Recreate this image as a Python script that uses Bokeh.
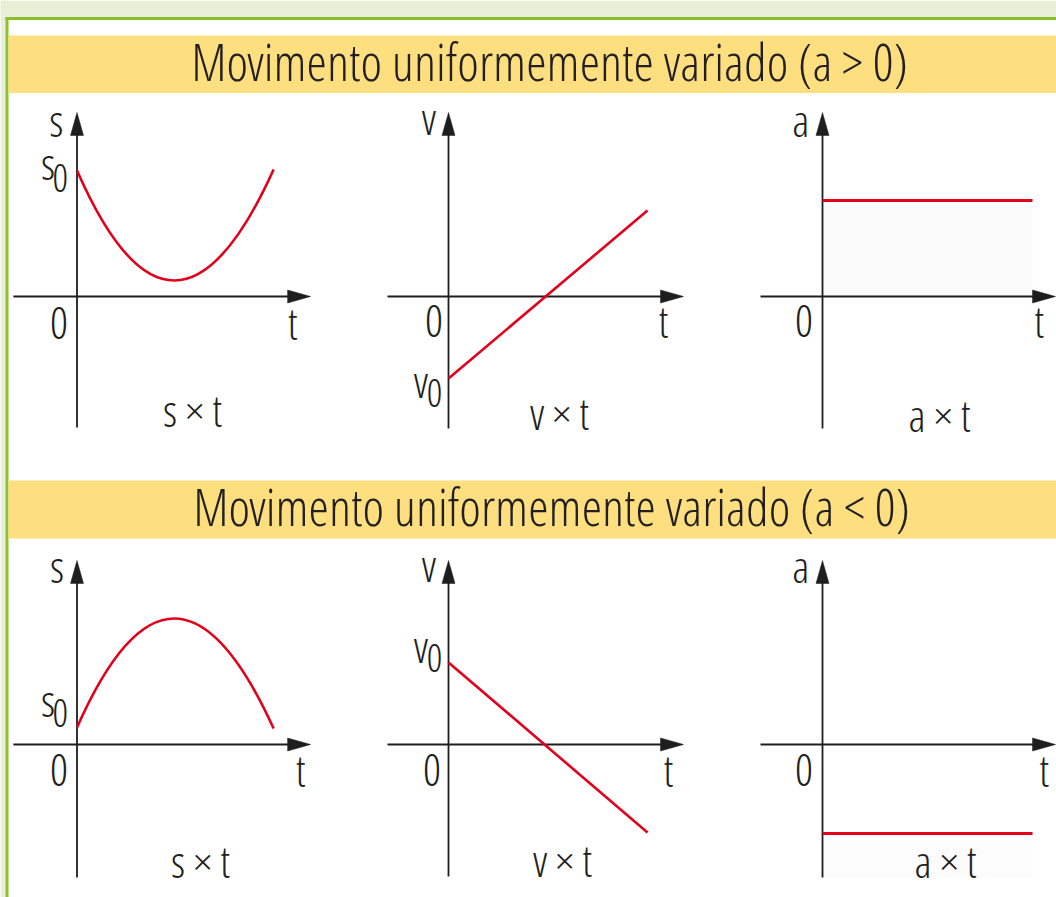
from bokeh.plotting import figure
from bokeh.models import Range1d
from bokeh.core.properties import value
from bokeh.embed import file_html
from bokeh.resources import INLINE

# ---------------- data ----------------
titles = ["Movimento uniformemente variado (a > 0)",
          "Movimento uniformemente variado (a < 0)"]
captions = ["s × t", "v × t", "a × t"]
axis_names = ["s", "v", "a"]
initial_names = ["s", "v"]

# a > 0
s_pos_t = [0.0, 4.83, 9.83]      # start, vertex, end
s_pos_s = [6.3, 0.8, 6.35]
v_pos_t = [0.0, 9.95]
v_pos_v = [-4.1, 4.3]
a_pos_t = [0.0, 10.5]
a_pos_a = [4.8, 4.8]

# a < 0
s_neg_t = [0.0, 4.83, 9.83]
s_neg_s = [0.85, 6.3, 0.8]
v_neg_t = [0.0, 9.95]
v_neg_v = [4.1, -4.4]
a_neg_t = [0.0, 10.5]
a_neg_a = [-4.45, -4.45]

# ---------------- layout ----------------
W, H = 1056, 897
K = 20.0  # pixels per unit
FONT = "Open Sans Condensed Light, Roboto Condensed, DejaVu Sans Condensed, sans-serif"
INK = "#231f20"
RED = "#e2001a"
AX = "#1e1e1e"
LAB_DY = 18.0  # pixel correction of the label baselines (positive = up)

p = figure(width=W, height=H, x_range=Range1d(0, W), y_range=Range1d(H, 0),
           output_backend="svg", toolbar_location=None, x_axis_type=None, y_axis_type=None,
           min_border=0, outline_line_color=None,
           background_fill_color="white", border_fill_color="white")

# frame decoration
p.quad(left=[0], right=[W], top=[0], bottom=[16.5], color="#e7efd6", line_color=None)
p.quad(left=[0], right=[5], top=[0], bottom=[H], color="#e7efd6", line_color=None)
p.quad(left=[5], right=[W], top=[16.5], bottom=[19.5], color="#8cbf2a", line_color=None)
p.quad(left=[5], right=[8], top=[16.5], bottom=[H], color="#8cbf2a", line_color=None)
band_tops = [35, 480]
band_bottoms = [92.5, 538]
p.quad(left=[8, 8], right=[W, W], top=band_tops, bottom=band_bottoms,
       color="#fddf80", line_color=None)
p.text(x=[549, 551], y=[(a + b) / 2 - 4 for a, b in zip(band_tops, band_bottoms)], text=titles,
       text_font=value(FONT), text_font_size=value("52px"), text_color=INK,
       text_align="center", text_baseline="middle")

# panels: origin in page pixels, axis extents in units
panels = [
    dict(n="A", ox=76.5, oy=296, xl=-3.18, xr=11.68, yb=-6.55, yt=9.2),
    dict(n="B", ox=448, oy=296, xl=-3.05, xr=11.75, yb=-6.6, yt=9.2),
    dict(n="C", ox=822, oy=296, xl=-3.1, xr=11.65, yb=-6.6, yt=9.2),
    dict(n="D", ox=76.5, oy=744, xl=-3.18, xr=11.68, yb=-6.65, yt=9.2),
    dict(n="E", ox=448, oy=744, xl=-3.05, xr=11.75, yb=-6.6, yt=9.2),
    dict(n="F", ox=822, oy=744, xl=-3.1, xr=11.65, yb=-6.65, yt=9.2),
]
xr, yr = {}, {}
for q in panels:
    xr[q["n"] + "x"] = Range1d(-q["ox"] / K, (W - q["ox"]) / K)
    yr[q["n"] + "y"] = Range1d((q["oy"] - H) / K, q["oy"] / K)
p.extra_x_ranges = xr
p.extra_y_ranges = yr

HL = 23 / K   # arrow head length
HW = 6.5 / K  # arrow head half width


def rn(q):
    return dict(x_range_name=q["n"] + "x", y_range_name=q["n"] + "y")


def draw_axes(q):
    r = rn(q)
    p.segment(x0=[q["xl"], 0], y0=[0, q["yb"]], x1=[q["xr"] - HL * 0.5, 0], y1=[0, q["yt"] - HL * 0.5],
              line_color=AX, line_width=1.8, **r)
    p.patches(xs=[[q["xr"], q["xr"] - HL, q["xr"] - HL], [0, -HW, HW]],
              ys=[[0, HW, -HW], [q["yt"], q["yt"] - HL, q["yt"] - HL]],
              color=AX, line_color=AX, line_width=0.5, **r)


def txt(q, xs, ys, texts, size):
    p.text(x=xs, y=[y + LAB_DY / K for y in ys], text=texts, text_font=value(FONT),
           text_font_size=value(size), text_color=INK, text_align="center",
           text_baseline="alphabetic", **rn(q))


def parabola(q, ts, ss):
    # quadratic Bezier through the three points
    cx = ts[1]
    cy = 2 * ss[1] - (ss[0] + ss[2]) / 2
    p.quadratic(x0=[ts[0]], y0=[ss[0]], x1=[ts[2]], y1=[ss[2]], cx=[cx], cy=[cy],
                line_color=RED, line_width=2.6, **rn(q))


A, B, C, D, E, F = panels

# faint shading under the a x t lines
p.varea(x=a_pos_t, y1=[0, 0], y2=a_pos_a, fill_color="#fbfbfb", **rn(C))
p.varea(x=a_neg_t, y1=a_neg_a, y2=[a_neg_a[0] - 2.2, a_neg_a[1] - 2.2], fill_color="#fcfcfc", **rn(F))

for q in panels:
    draw_axes(q)

# curves
parabola(A, s_pos_t, s_pos_s)
p.line(x=v_pos_t, y=v_pos_v, line_color=RED, line_width=2.6, **rn(B))
p.line(x=a_pos_t, y=a_pos_a, line_color=RED, line_width=2.8, **rn(C))
parabola(D, s_neg_t, s_neg_s)
p.line(x=v_neg_t, y=v_neg_v, line_color=RED, line_width=2.6, **rn(E))
p.line(x=a_neg_t, y=a_neg_a, line_color=RED, line_width=2.8, **rn(F))

# labels
BIG = "45px"
SUB = "39px"
# top row
txt(A, [-1.03, -0.9, 10.78, 5.78], [7.95, -2.2, -2.2, -6.55], [axis_names[0], "0", "t", captions[0]], BIG)
txt(A, [-1.45], [5.8], [initial_names[0]], BIG)
txt(A, [-0.83], [5.05], ["0"], SUB)
txt(B, [-0.98, -0.73, 10.75, 5.55], [8.05, -2.1, -2.1, -6.7], [axis_names[1], "0", "t", captions[1]], BIG)
txt(B, [-1.38], [-5.1], [initial_names[1]], BIG)
txt(B, [-0.7], [-5.7], ["0"], SUB)
txt(C, [-1.08, -0.93, 10.83, 5.85], [7.95, -2.1, -2.1, -6.8], [axis_names[2], "0", "t", captions[2]], BIG)
# bottom row
txt(D, [-1.0, -0.9, 11.18, 6.18], [8.05, -2.15, -2.15, -6.7], [axis_names[0], "0", "t", captions[0]], BIG)
txt(D, [-1.45], [1.35], [initial_names[0]], BIG)
txt(D, [-0.83], [0.7], ["0"], SUB)
txt(E, [-0.98, -0.83, 11.0, 5.7], [8.1, -2.15, -2.15, -6.65], [axis_names[1], "0", "t", captions[1]], BIG)
txt(E, [-1.38], [4.05], [initial_names[1]], BIG)
txt(E, [-0.7], [3.45], ["0"], SUB)
txt(F, [-1.08, -0.93, 11.08, 6.15], [8.05, -2.15, -2.15, -6.7], [axis_names[2], "0", "t", captions[2]], BIG)

open("out.html", "w").write(file_html(p, INLINE))
